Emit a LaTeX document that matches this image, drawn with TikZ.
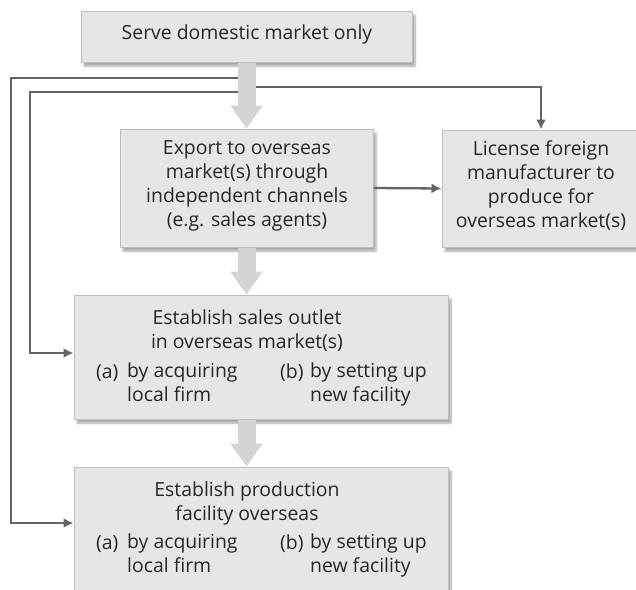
\documentclass[tikz,border=0pt]{standalone}
\usepackage{fontspec}
\setmainfont{Open Sans}
\usetikzlibrary{arrows.meta,shadows.blur,calc}
\definecolor{boxfill}{HTML}{E6E6E6}
\definecolor{boxline}{HTML}{BDBDBD}
\definecolor{bigarr}{HTML}{D4D4D4}
\definecolor{linecol}{HTML}{646464}
\tikzset{
  box/.style={draw=boxline, fill=boxfill, line width=1pt, rectangle, inner sep=0pt,
    blur shadow={shadow blur steps=6, shadow xshift=3pt, shadow yshift=-4pt, shadow opacity=35}},
  txt/.style={font=\fontsize{19.4}{24}\selectfont, inner sep=0pt, text=black!85},
  bigarrow/.style={draw=bigarr, line width=18pt, -{Triangle[width=31pt,length=23pt]}},
  conn/.style={draw=linecol, line width=2.3pt, -{Latex[length=10pt,width=10pt]}}
}
\begin{document}
\begin{tikzpicture}[x=1pt,y=-1pt]
\useasboundingbox (0,0) rectangle (636,589);
\clip (0,0) rectangle (636,589);
% boxes
\node[box, minimum width=331pt, minimum height=51pt] (top) at (246.5,36.5) {};
\node[txt] (toptxt) at (247,34) {Serve domestic market only};
\node[box, minimum width=253pt, minimum height=118pt] (export) at (246.5,188) {};
\node[txt, align=center] (exptxt) at (247,186) {Export to overseas\\market(s) through\\independent channels\\(e.g. sales agents)};
\node[box, minimum width=198pt, minimum height=117pt] (license) at (541,188.5) {};
\node[txt, align=center] (lictxt) at (541,186) {License foreign\\manufacturer to\\produce for\\overseas market(s)};
\node[box, minimum width=374pt, minimum height=124pt] (sales) at (261,357) {};
\node[txt, align=center] (salestxt) at (247,331) {Establish sales outlet\\in overseas market(s)};
\node[txt, anchor=west] (salesa) at (96,373) {(a)};
\node[txt, anchor=north west, align=left] (salesat) at (127,363) {by acquiring\\local firm};
\node[txt, anchor=west] (salesb) at (280,373) {(b)};
\node[txt, anchor=north west, align=left] (salesbt) at (310,363) {by setting up\\new facility};
\node[box, minimum width=374pt, minimum height=150pt] (prod) at (261,542) {};
\node[txt, align=center] (prodtxt) at (247,503) {Establish production\\facility overseas};
\node[txt, anchor=west] (proda) at (96,544) {(a)};
\node[txt, anchor=north west, align=left] (prodat) at (127,534) {by acquiring\\local firm};
\node[txt, anchor=west] (prodb) at (280,544) {(b)};
\node[txt, anchor=north west, align=left] (prodbt) at (310,534) {by setting up\\new facility};
% junctions
\coordinate (j1) at (247,77.7);
\coordinate (j2) at (247,92.3);
\coordinate (j3) at (247,86.7);
\coordinate (c1) at (11,523);
\coordinate (c2) at (30,353);
% thin connectors
\draw[conn] (j1) -| (c1) -- (prod.west |- c1);
\draw[conn] (j2) -| (c2) -- (sales.west |- c2);
\draw[conn] (j3) -| (license.north);
\draw[conn] (export.east) -- (license.west);
% big arrows
\draw[bigarrow] (top.south) -- (export.north);
\draw[bigarrow] (export.south) -- (export.south |- sales.north);
\draw[bigarrow] (sales.south -| export.south) -- (prod.north -| export.south);
\end{tikzpicture}
\end{document}
